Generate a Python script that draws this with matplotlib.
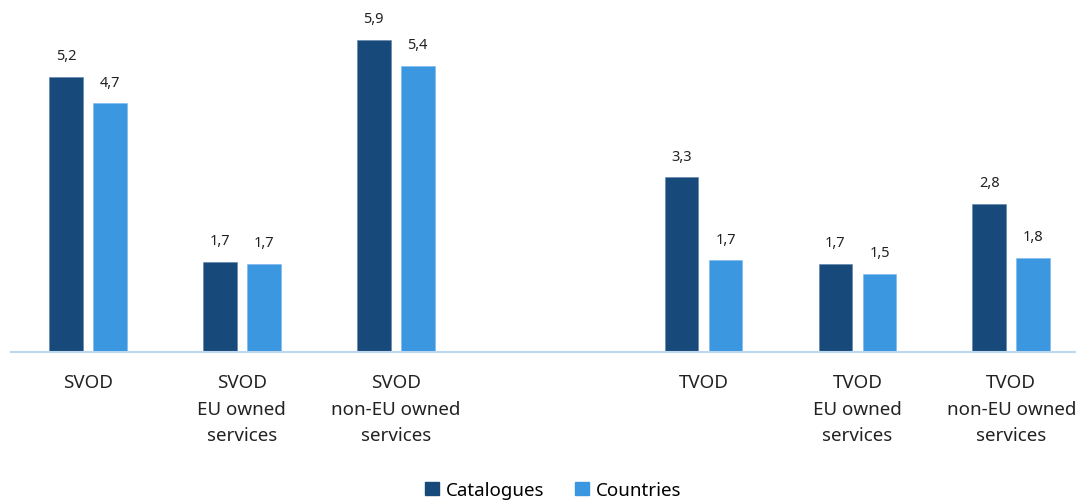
import matplotlib.pyplot as plt
import numpy as np

plt.rcParams['font.family'] = ['Noto Sans', 'DejaVu Sans']

categories = ["SVOD", "SVOD\nEU owned\nservices", "SVOD\nnon-EU owned\nservices", "",
              "TVOD", "TVOD\nEU owned\nservices", "TVOD\nnon-EU owned\nservices"]
catalogues = [5.2, 1.71, 5.9, None, 3.3, 1.66, 2.8]
countries = [4.7, 1.66, 5.4, None, 1.73, 1.48, 1.78]

dark = "#17497A"
light = "#3A97E0"

fig = plt.figure(figsize=(10.76, 5.02), dpi=100)
ax = fig.add_axes([0.0102, 0.2968, 0.9898, 0.7032])

x = np.arange(len(categories))
w = 0.22
off = 0.143
for i in range(len(categories)):
    if catalogues[i] is None:
        continue
    ax.bar(x[i] - off, catalogues[i], w, color=dark, edgecolor="#5A82AA", linewidth=0.4)
    ax.bar(x[i] + off, countries[i], w, color=light, edgecolor="#7DB8EC", linewidth=0.4)
    ax.text(x[i] - off, catalogues[i] + 0.26, f"{catalogues[i]:.1f}".replace(".", ","),
            ha="center", va="bottom", fontsize=10.5, color="#222222")
    ax.text(x[i] + off, countries[i] + 0.26, f"{countries[i]:.1f}".replace(".", ","),
            ha="center", va="bottom", fontsize=10.5, color="#222222")

ax.set_xlim(-0.5, 6.42)
ax.set_ylim(0, 6.67)
ax.set_xticks(x)
ax.set_xticklabels(categories, fontsize=13.5, color="#222222", linespacing=1.62)
ax.tick_params(axis="x", length=0, pad=15)
ax.set_yticks([])
for s in ["top", "right", "left"]:
    ax.spines[s].set_visible(False)
ax.spines["bottom"].set_color("#BDD7EE")
ax.spines["bottom"].set_linewidth(1.5)

h1 = plt.Rectangle((0, 0), 1, 1, color=dark)
h2 = plt.Rectangle((0, 0), 1, 1, color=light)
fig.legend([h1, h2], ["Catalogues", "Countries"], loc="center", bbox_to_anchor=(0.514, 0.022),
           ncol=2, frameon=False, fontsize=13.5, handlelength=0.75, handleheight=0.75,
           handletextpad=0.4, columnspacing=1.6)

fig.savefig("out.png", dpi=100)
